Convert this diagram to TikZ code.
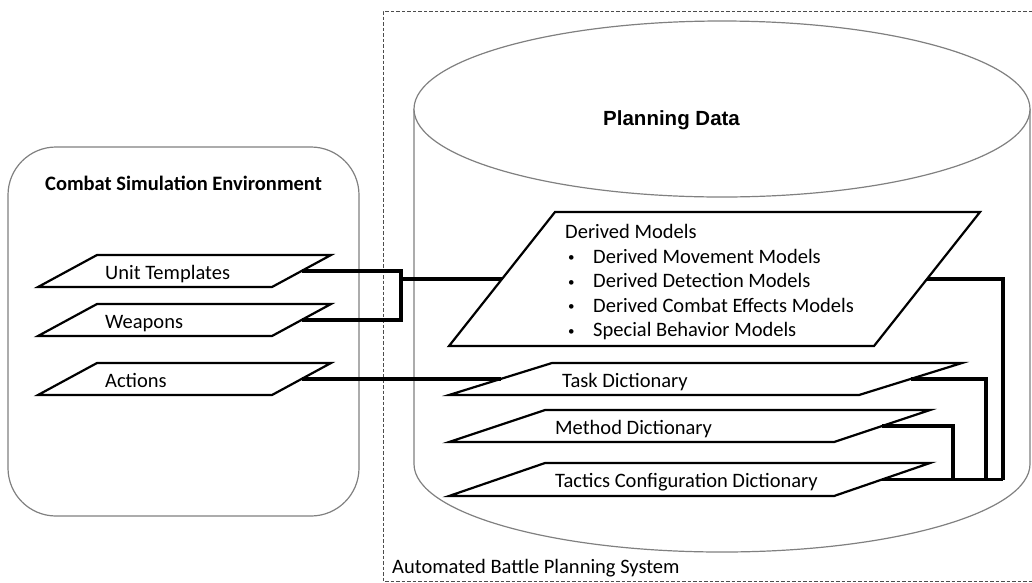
\documentclass[tikz,border=0pt]{standalone}
\usepackage{fontspec}
\setmainfont{Carlito}
\newfontfamily\headfont{Liberation Sans}
\usetikzlibrary{calc}

% parallelogram data store: name, top-left x, bottom-left x, width, top y, bottom y
\newcommand\plgram[6]{%
  \coordinate (#1-tl) at (#2,#5);
  \coordinate (#1-tr) at (#2+#4,#5);
  \coordinate (#1-br) at (#3+#4,#6);
  \coordinate (#1-bl) at (#3,#6);
  \coordinate (#1-w) at ($(#1-tl)!0.5!(#1-bl)$);
  \coordinate (#1-e) at ($(#1-tr)!0.5!(#1-br)$);
  \path[plgline] (#1-tl) -- (#1-tr) -- (#1-br) -- (#1-bl) -- cycle;
}
% small list bullet followed by an indent
\newcommand\itemdot{\makebox[25pt][l]{\raisebox{1.5pt}{\fontsize{13}{13}\selectfont •}}}

\tikzset{
  txt/.style={font=\fontsize{20.5}{24.5}\selectfont, inner sep=0pt, anchor=base west},
  title/.style={font=\fontsize{20.5}{24.5}\selectfont\bfseries, inner sep=0pt, anchor=base},
  plgline/.style={draw=black, line width=2.2pt, fill=white, line join=miter},
  conn/.style={draw=black, line width=3.3pt},
  soft/.style={draw=black!50, line width=1.2pt, fill=white},
  frame/.style={draw=black!70, line width=0.9pt, dash pattern=on 3.5pt off 2pt},
}

\begin{document}
\begin{tikzpicture}[x=1pt,y=-1pt]
\useasboundingbox (0,0) rectangle (1032,582);

% system boundary (open to the right)
\draw[frame] (1032,11) -- (383,11) -- (383,581) -- (1032,581);
\node[txt] (sys) at (392,573) {Automated Battle Planning System};

% combat simulation environment
\draw[soft, rounded corners=48pt] (8,147) rectangle (359,516);
\node[title] (cse) at (183.5,190) {Combat Simulation Environment};

\plgram{ut}{97}{38}{234}{255}{287}
\plgram{wp}{97}{38}{234}{304}{336}
\plgram{ac}{97}{38}{234}{363}{395}
\node[txt] (ut-t) at (105,279) {Unit Templates};
\node[txt] (wp-t) at (105,328) {Weapons};
\node[txt] (ac-t) at (105,387) {Actions};

% planning data store
\draw[soft] (414,109) -- (414,464)
  arc[start angle=180, end angle=360, x radius=308pt, y radius=88pt]
  -- (1030,109);
\draw[soft] (722,109) ellipse[x radius=308pt, y radius=88pt];
\node[anchor=base west, inner sep=0pt, font=\fontsize{20.5}{24.5}\headfont\bfseries] (pd) at (603,125) {Planning Data};

\plgram{dm}{555}{449}{425}{212}{346}
\node[txt] (dm-t0) at (565,238.5) {Derived Models};
\node[txt] (dm-t1) at (568,263) {\itemdot Derived Movement Models};
\node[txt] (dm-t2) at (568,287.5) {\itemdot Derived Detection Models};
\node[txt] (dm-t3) at (568,312) {\itemdot Derived Combat Effects Models};
\node[txt] (dm-t4) at (568,336.5) {\itemdot Special Behavior Models};

\plgram{td}{552}{449}{410}{363}{395}
\plgram{md}{545}{449}{385}{410}{442}
\plgram{tc}{545}{449}{385}{463}{496}
\node[txt] (td-t) at (562,387) {Task Dictionary};
\node[txt] (md-t) at (555,434.5) {Method Dictionary};
\node[txt] (tc-t) at (555,487.5) {Tactics Configuration Dictionary};

% connectors
\coordinate (bus) at (401,279);
\draw[conn] (ut-e) -| (bus) |- (wp-e);
\draw[conn] (bus) -- (dm-w);
\draw[conn] (ac-e) -- (td-w);

\coordinate (rb1) at ($(tc-e)+(121,0)$);
\coordinate (rb2) at ($(tc-e)+(104,0)$);
\coordinate (rb3) at ($(tc-e)+(71,0)$);
\draw[conn] (dm-e) -| (rb1);
\draw[conn] (td-e) -| (rb2);
\draw[conn] (md-e) -| (rb3);
\draw[conn] (tc-e) -- (rb1);
\end{tikzpicture}
\end{document}
